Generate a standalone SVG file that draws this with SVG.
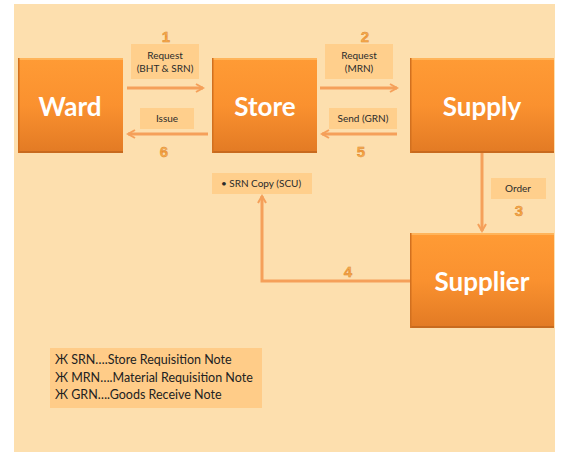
<svg xmlns="http://www.w3.org/2000/svg" width="561" height="452" viewBox="0 0 561 452">
  <style>
    .node{stroke:none;}
    .edge{fill:none;stroke:#F5A05A;stroke-width:3;}
    .big{font-family:Lato,"Open Sans","Liberation Sans",sans-serif;font-weight:bold;font-size:26px;fill:#ffffff;text-anchor:middle;}
    .lbl{fill:#FFCF8C;}
    .small{font-family:Lato,"Liberation Sans",sans-serif;font-size:10px;fill:#2b2b2b;text-anchor:middle;}
    .num{font-family:"Liberation Sans",sans-serif;font-weight:bold;font-size:15px;fill:url(#numg);stroke:#D9822B;stroke-width:0.4;text-anchor:middle;}
    .leg{font-family:Lato,"Liberation Sans",sans-serif;font-size:12.5px;fill:#222;}
  </style>
  <defs>
    <linearGradient id="boxg" x1="0" y1="0" x2="0" y2="1">
      <stop offset="0" stop-color="#FF9B35"/>
      <stop offset="0.5" stop-color="#FA912F"/>
      <stop offset="1" stop-color="#E27A24"/>
    </linearGradient>
    <linearGradient id="numg" x1="0" y1="0" x2="0" y2="1">
      <stop offset="0" stop-color="#FFD27A"/>
      <stop offset="0.5" stop-color="#F29A3A"/>
      <stop offset="1" stop-color="#FFC060"/>
    </linearGradient>
    <marker id="ah" viewBox="0 0 10 10" refX="8" refY="5" markerWidth="10" markerHeight="10" markerUnits="userSpaceOnUse" orient="auto">
      <polyline points="1,1 8,5 1,9" fill="none" stroke="#F5A05A" stroke-width="2"/>
    </marker>
  </defs>

  <rect x="14" y="4" width="541" height="448" fill="#FDDFAE"/>

  <g id="connectors">
    <line class="edge" x1="127" y1="88" x2="203" y2="88" marker-end="url(#ah)"/>
    <line class="edge" x1="208" y1="134" x2="128" y2="134" marker-end="url(#ah)"/>
    <line class="edge" x1="320" y1="88" x2="397" y2="88" marker-end="url(#ah)"/>
    <line class="edge" x1="397" y1="134" x2="322" y2="134" marker-end="url(#ah)"/>
    <line class="edge" x1="482" y1="153" x2="482" y2="231" marker-end="url(#ah)"/>
    <polyline class="edge" points="410,281 262,281 262,196" marker-end="url(#ah)"/>
  </g>

  <g id="labels">
    <rect class="lbl" x="131" y="44" width="68" height="35"/>
    <text class="small" x="165" y="59">Request</text>
    <text class="small" x="165" y="72">(BHT &amp; SRN)</text>
    <rect class="lbl" x="140" y="108" width="54" height="21"/>
    <text class="small" x="167" y="122">Issue</text>
    <rect class="lbl" x="325" y="44" width="68" height="35"/>
    <text class="small" x="359" y="59">Request</text>
    <text class="small" x="359" y="72">(MRN)</text>
    <rect class="lbl" x="329" y="108" width="68" height="21"/>
    <text class="small" x="363" y="122">Send (GRN)</text>
    <rect class="lbl" x="491" y="178" width="55" height="21"/>
    <text class="small" x="518" y="192">Order</text>
    <rect class="lbl" x="212" y="173" width="100" height="21"/>
    <text class="small" x="261" y="187">• SRN Copy (SCU)</text>
    <text class="num" x="166" y="42">1</text>
    <text class="num" x="365" y="42">2</text>
    <text class="num" x="519" y="216">3</text>
    <text class="num" x="348" y="277">4</text>
    <text class="num" x="361" y="157">5</text>
    <text class="num" x="164" y="157">6</text>
  </g>

  <g id="ward">
    <rect class="node" x="18" y="58" width="105" height="95" fill="url(#boxg)"/>
    <rect x="18" y="58" width="105" height="2" fill="#FFB45A"/>
    <rect x="18" y="151" width="105" height="2" fill="#C86A1E"/>
    <rect x="18" y="58" width="1.5" height="95" fill="#D2701F"/>
    <text class="big" x="70" y="116">Ward</text>
  </g>
  <g id="store">
    <rect class="node" x="212" y="58" width="105" height="95" fill="url(#boxg)"/>
    <rect x="212" y="58" width="105" height="2" fill="#FFB45A"/>
    <rect x="212" y="151" width="105" height="2" fill="#C86A1E"/>
    <rect x="212" y="58" width="1.5" height="95" fill="#D2701F"/>
    <text class="big" x="265" y="116">Store</text>
  </g>
  <g id="supply">
    <rect class="node" x="410" y="58" width="144" height="95" fill="url(#boxg)"/>
    <rect x="410" y="58" width="144" height="2" fill="#FFB45A"/>
    <rect x="410" y="151" width="144" height="2" fill="#C86A1E"/>
    <rect x="410" y="58" width="1.5" height="95" fill="#D2701F"/>
    <text class="big" x="482" y="116">Supply</text>
  </g>
  <g id="supplier">
    <rect class="node" x="410" y="233" width="144" height="95" fill="url(#boxg)"/>
    <rect x="410" y="233" width="144" height="2" fill="#FFB45A"/>
    <rect x="410" y="326" width="144" height="2" fill="#C86A1E"/>
    <rect x="410" y="233" width="1.5" height="95" fill="#D2701F"/>
    <text class="big" x="482" y="291">Supplier</text>
  </g>

  <g id="legend">
    <rect x="50" y="348" width="212" height="60" fill="#FFCC88"/>
    <text class="leg" x="55" y="364">Ж SRN….Store Requisition Note</text>
    <text class="leg" x="55" y="382">Ж MRN….Material Requisition Note</text>
    <text class="leg" x="55" y="399">Ж GRN….Goods Receive Note</text>
  </g>
</svg>
